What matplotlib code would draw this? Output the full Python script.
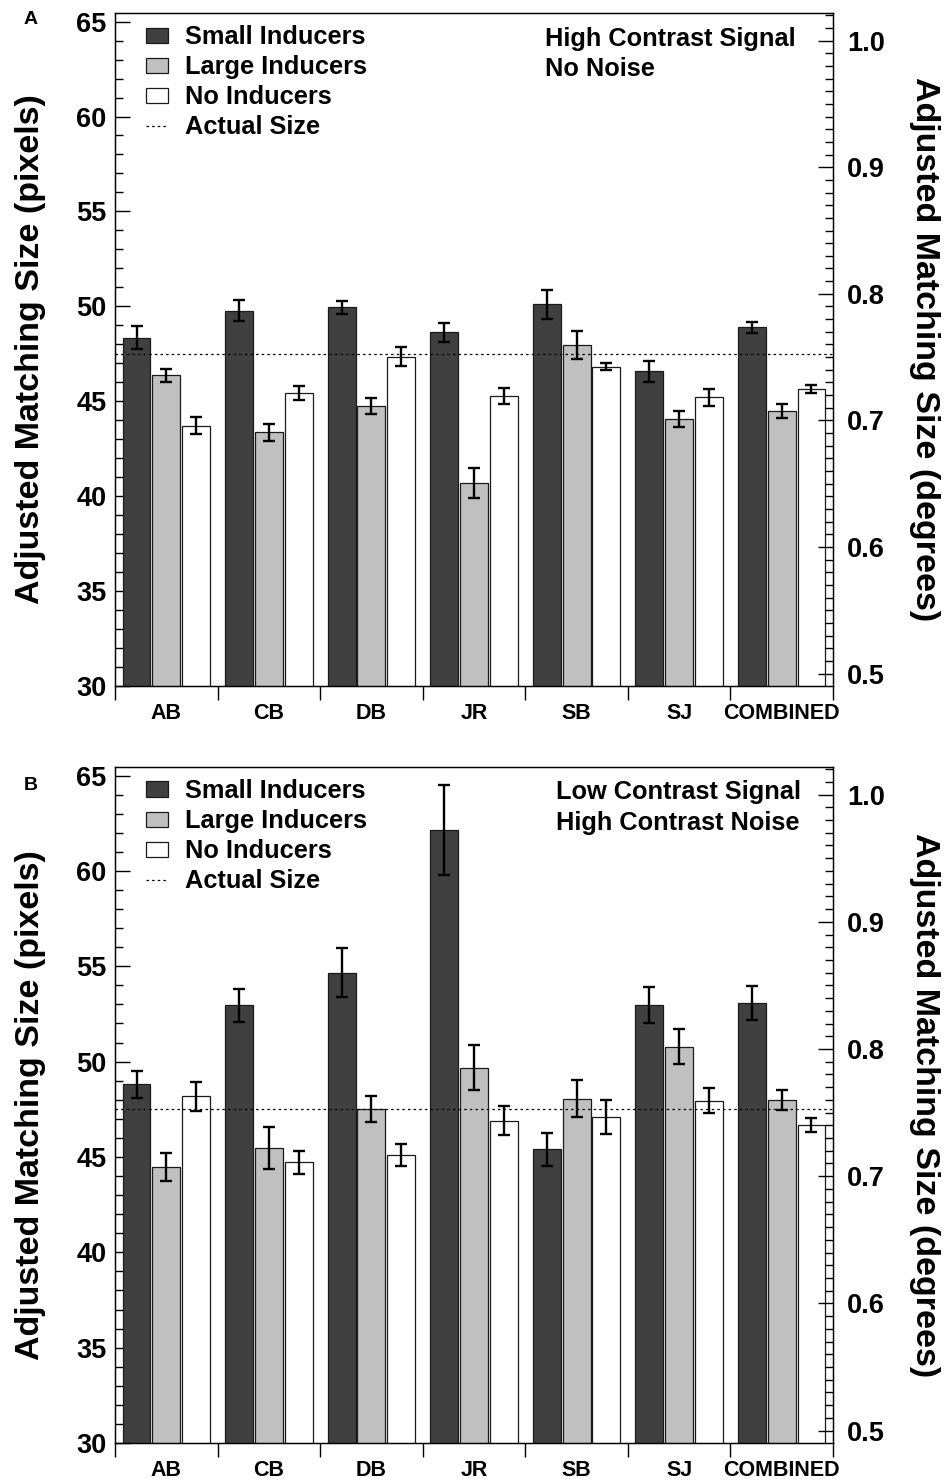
import numpy as np
import matplotlib
matplotlib.use('Agg')
import matplotlib.pyplot as plt
from matplotlib.ticker import MultipleLocator

plt.rcParams['font.family'] = ['Liberation Sans', 'DejaVu Sans']
plt.rcParams['font.weight'] = 'bold'
plt.rcParams['axes.labelweight'] = 'bold'

# ---------------------------------------------------------------------------
# Data (pixels)
# ---------------------------------------------------------------------------
subjects = ['AB', 'CB', 'DB', 'JR', 'SB', 'SJ', 'COMBINED']
conditions = ['Small Inducers', 'Large Inducers', 'No Inducers']
bar_colors = ['#404040', '#c0c0c0', '#ffffff']

# Panel A: high contrast signal, no noise
a_small = [48.35, 49.77, 49.95, 48.63, 50.10, 46.58, 48.89]
a_small_err = [0.60, 0.55, 0.35, 0.50, 0.75, 0.56, 0.30]
a_large = [46.37, 43.37, 44.75, 40.70, 47.96, 44.07, 44.49]
a_large_err = [0.35, 0.45, 0.40, 0.80, 0.74, 0.40, 0.35]
a_none = [43.70, 45.44, 47.35, 45.28, 46.83, 45.21, 45.63]
a_none_err = [0.45, 0.37, 0.50, 0.44, 0.20, 0.46, 0.21]

# Panel B: low contrast signal, high contrast noise
b_small = [48.80, 52.96, 54.67, 62.15, 45.41, 52.96, 53.06]
b_small_err = [0.70, 0.87, 1.28, 2.36, 0.87, 0.94, 0.88]
b_large = [44.46, 45.49, 47.51, 49.69, 48.05, 50.79, 47.99]
b_large_err = [0.74, 1.10, 0.66, 1.20, 0.96, 0.93, 0.51]
b_none = [48.19, 44.71, 45.11, 46.91, 47.10, 47.94, 46.68]
b_none_err = [0.76, 0.60, 0.56, 0.77, 0.89, 0.65, 0.35]

actual_size = 47.5

# pixel -> degree conversion used by the right-hand axis
PX_AT_HALF_DEG = 30.65
PX_PER_DEG = 66.7


def px_to_deg(p):
    return 0.5 + (p - PX_AT_HALF_DEG) / PX_PER_DEG


def plot_panel(ax, means, errs, note, note_x, letter, letter_y):
    x = np.arange(len(subjects))
    width = 0.272
    offsets = [-0.29, 0.0, 0.29]
    for i in range(3):
        ax.bar(x + offsets[i], means[i], width, bottom=0,
               color=bar_colors[i], edgecolor='#1a1a1a', linewidth=0.9,
               label=conditions[i], zorder=2)
        ax.errorbar(x + offsets[i], means[i], yerr=errs[i], fmt='none',
                    ecolor='black', elinewidth=1.7, capsize=4.5,
                    capthick=1.7, zorder=3)
    ax.axhline(actual_size, color='black', ls=(0, (2, 2.5)), lw=0.9,
               label='Actual Size', zorder=4)

    ax.set_xlim(-0.5, len(subjects) - 0.5)
    ax.set_ylim(30, 65.45)
    ax.yaxis.set_major_locator(MultipleLocator(5))
    ax.yaxis.set_minor_locator(MultipleLocator(1))
    ax.tick_params(axis='y', which='major', direction='in', length=11,
                   width=1, labelsize=19.5, pad=6)
    ax.tick_params(axis='y', which='minor', direction='in', length=6, width=1)

    # separators between groups, labels at group centres
    ax.set_xticks(np.arange(len(subjects) + 1) - 0.5)
    ax.set_xticklabels([])
    ax.set_xticks(x, minor=True)
    ax.set_xticklabels(subjects, minor=True, fontsize=15.5)
    ax.tick_params(axis='x', which='major', direction='out', length=10, width=1)
    ax.tick_params(axis='x', which='minor', length=0, pad=12)

    ax.set_ylabel('Adjusted Matching Size (pixels)', fontsize=24.5)
    ax.yaxis.label.set_va('center')
    ax.yaxis.set_label_coords(-0.118, 0.5)
    for s in ax.spines.values():
        s.set_linewidth(1.0)

    ax2 = ax.twinx()
    lo, hi = ax.get_ylim()
    ax2.set_ylim(px_to_deg(lo), px_to_deg(hi))
    ax2.yaxis.set_major_locator(MultipleLocator(0.1))
    ax2.yaxis.set_minor_locator(MultipleLocator(0.01))
    ax2.yaxis.set_major_formatter(plt.FormatStrFormatter('%.1f'))
    ax2.tick_params(axis='y', which='major', direction='in', length=11,
                    width=1, labelsize=19.5, pad=10)
    ax2.tick_params(axis='y', which='minor', direction='in', length=6, width=1)
    ax2.set_ylabel('Adjusted Matching Size (degrees)', fontsize=24.5,
                   rotation=270)
    ax2.yaxis.label.set_va('center')
    ax2.yaxis.set_label_coords(1.128, 0.5)

    handles, labels = ax.get_legend_handles_labels()
    order = [1, 2, 3, 0]
    ax.legend([handles[k] for k in order], [labels[k] for k in order],
              loc='upper left', bbox_to_anchor=(0.043, 0.982), frameon=False,
              fontsize=18.3, handlelength=0.87, handleheight=0.55,
              handletextpad=0.67, labelspacing=0.24, borderaxespad=0,
              borderpad=0)

    ax.text(note_x, 0.98, note, transform=ax.transAxes, fontsize=18.3,
            ha='left', va='top', linespacing=1.32)
    ax.text(-0.118, letter_y, letter, transform=ax.transAxes, fontsize=14,
            ha='center', va='center')


fig = plt.figure(figsize=(9.45, 14.82), dpi=100)
ax_a = fig.add_axes([0.1217, 0.5371, 0.7598, 0.4541])
ax_b = fig.add_axes([0.1217, 0.0263, 0.7598, 0.4562])

plot_panel(ax_a, [a_small, a_large, a_none],
           [a_small_err, a_large_err, a_none_err],
           'High Contrast Signal\nNo Noise', 0.599, 'A', 0.99)
plot_panel(ax_b, [b_small, b_large, b_none],
           [b_small_err, b_large_err, b_none_err],
           'Low Contrast Signal\nHigh Contrast Noise', 0.614, 'B', 0.973)

fig.savefig('out.png', dpi=100)
